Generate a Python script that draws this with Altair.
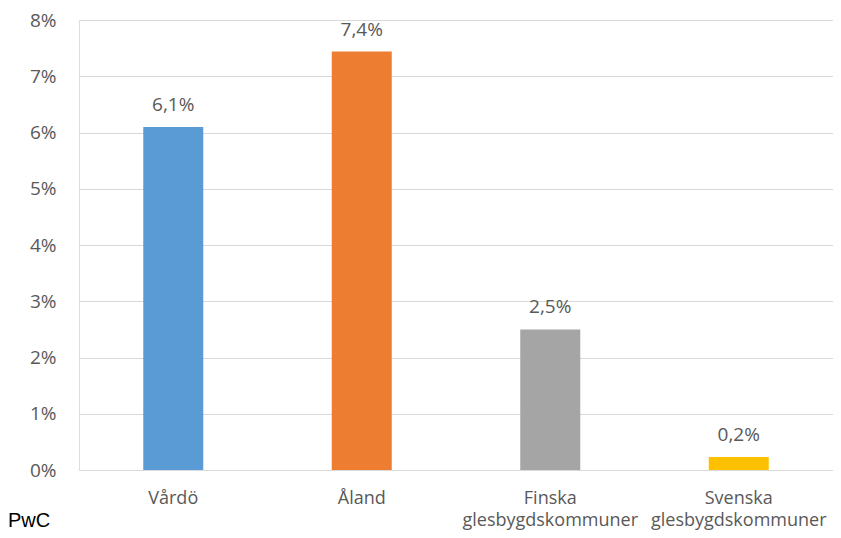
import altair as alt
import pandas as pd

categories = ["Vårdö", "Åland", "Finska|glesbygdskommuner", "Svenska|glesbygdskommuner"]
values = [0.061, 0.0744, 0.025, 0.0023]
labels = ["6,1%", "7,4%", "2,5%", "0,2%"]
colors = ["#5B9BD5", "#ED7D31", "#A5A5A5", "#FFC000"]
y_ticks = [0, 0.01, 0.02, 0.03, 0.04, 0.05, 0.06, 0.07, 0.08]

df = pd.DataFrame({"cat": categories, "val": values, "lab": labels, "col": colors})

FONT = "Open Sans"
TXT = "#595959"

x = alt.X("cat:N", sort=categories, title=None,
          scale=alt.Scale(paddingInner=0, paddingOuter=0),
          axis=alt.Axis(labelExpr="split(datum.label, '|')", labelAngle=0,
                        domain=False, ticks=False, labelPadding=19,
                        labelLimit=400, labelOverlap=False,
                        labelFont=FONT, labelFontSize=18, labelColor=TXT,
                        labelLineHeight=22))
y = alt.Y("val:Q", title=None,
          scale=alt.Scale(domain=[0, 0.08], nice=False),
          axis=alt.Axis(values=y_ticks,
                        labelExpr="format(datum.value*100, 'd') + '%'",
                        domain=False, ticks=False, labelPadding=23,
                        gridColor="#D9D9D9", gridWidth=1.2,
                        labelFont=FONT, labelFontSize=19, labelColor=TXT))

bars = alt.Chart(df).mark_bar(size=60).encode(
    x=x, y=y, color=alt.Color("col:N", scale=None))

text = alt.Chart(df).mark_text(dy=-16, baseline="alphabetic", font=FONT,
                               fontSize=19, color=TXT).encode(
    x=alt.X("cat:N", sort=categories), y="val:Q", text="lab:N")

pwc = alt.Chart(pd.DataFrame({"t": ["PwC"]})).mark_text(
    font="Liberation Sans", fontSize=20, color="#000000", align="left",
    baseline="alphabetic").encode(
    x=alt.value(-71), y=alt.value(507), text="t:N")

chart = alt.layer(bars, text, pwc).properties(
    width=754, height=450,
    padding={"left": 71, "top": 12, "right": 0, "bottom": 60},
    autosize=alt.AutoSizeParams(type="none"),
).configure_view(stroke=None).configure(background="white")

chart.save("out.html", embed_options={"renderer": "svg", "actions": False})
